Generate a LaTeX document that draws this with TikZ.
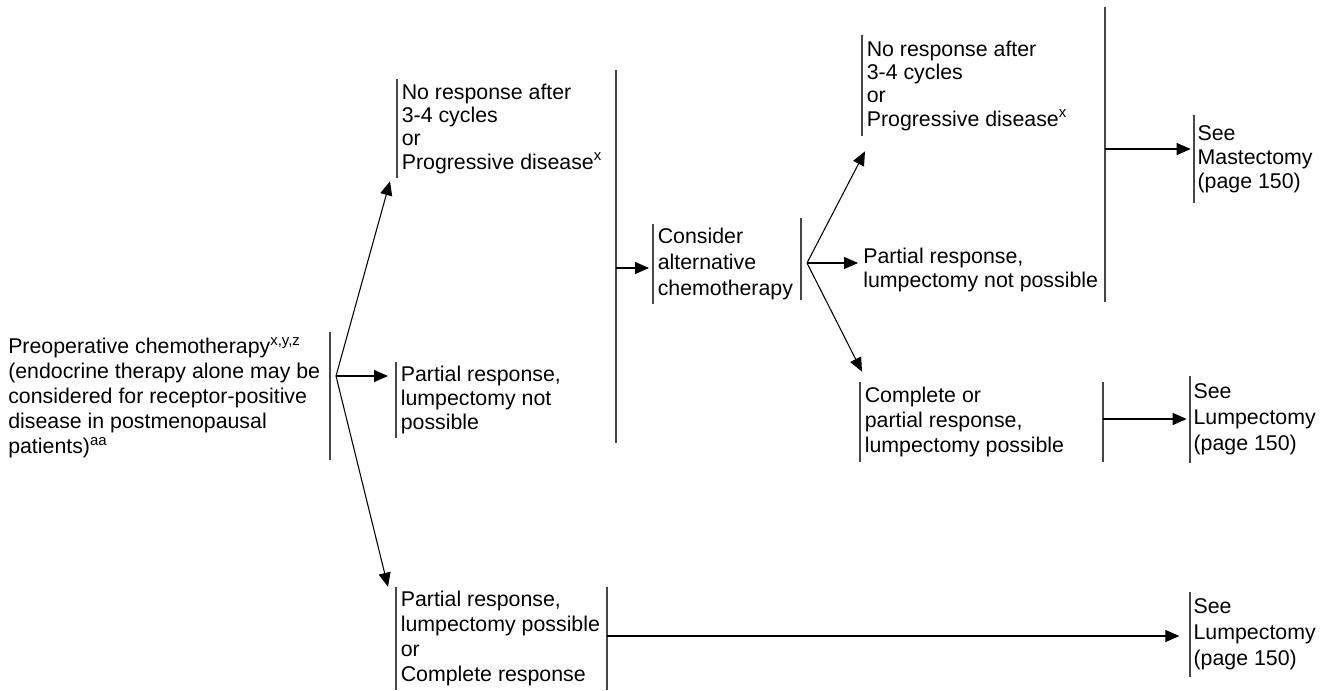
\documentclass[tikz,border=0pt]{standalone}
\usepackage{fontspec}
\setmainfont{Liberation Sans}
\usetikzlibrary{arrows.meta}

\tikzset{
  txt/.style={anchor=west, inner xsep=3.4pt, inner ysep=0pt, align=left,
              font=\fontsize{16}{18.75}\selectfont},
  tight/.style={font=\fontsize{16}{17.5}\selectfont},
  brk/.style={line width=1.1pt, draw=black!72},
  arr/.style={line width=0.8pt, draw=black, -{Triangle[length=10.5pt,width=9pt]}},
}

\begin{document}
\begin{tikzpicture}[x=0.75pt, y=-0.75pt]
\useasboundingbox (0,0) rectangle (1333,690);

% ---- first column ----
\node[txt, inner xsep=3.75pt] (A) at (3,398)
  {Preoperative chemotherapy\textsuperscript{x,y,z}\\(endocrine therapy alone may be\\considered for receptor-positive\\disease in postmenopausal\\patients)\textsuperscript{aa}};
\coordinate (Atop) at (330,332);
\coordinate (Abot) at (330,460);
\draw[brk] (Atop) -- (Abot);
\coordinate (fa) at (336,376);

% ---- first responses ----
\node[txt, tight, minimum height=74.25pt] (B) at (397,128.5)
  {No response after\\3-4 cycles\\or\\Progressive disease\textsuperscript{x}};
\draw[brk] (B.north west) -- (B.south west);

\node[txt, font=\fontsize{16}{18}\selectfont, minimum height=56.25pt] (C) at (396,400)
  {Partial response,\\lumpectomy not\\possible};
\draw[brk] (C.north west) -- (C.south west);

\node[txt, minimum height=77.25pt] (D) at (396,638.5)
  {Partial response,\\lumpectomy possible\\or\\Complete response};
\draw[brk] (D.north west) -- (D.south west);
\coordinate (Dtop) at (607,587);
\coordinate (Dbot) at (607,690);
\draw[brk] (Dtop) -- (Dbot);
\coordinate (Dout) at (607,636);

\draw[arr] (fa) -- ([shift={(-7,3)}]B.south west);
\draw[arr] (fa) -- ([xshift=-6pt]fa -| C.west);
\draw[arr] (fa) -- ([shift={(-8,0)}]D.north west);

% shared bracket of the two non-operable branches
\coordinate (Ltop) at (616,70);
\coordinate (Lbot) at (616,443);
\draw[brk] (Ltop) -- (Lbot);

% ---- alternative chemotherapy ----
\node[txt, font=\fontsize{16}{19.5}\selectfont, minimum height=60pt] (E) at (653,264)
  {Consider\\alternative\\chemotherapy};
\draw[brk] (E.north west) -- (E.south west);
\coordinate (Etop) at (801,218);
\coordinate (Ebot) at (801,300);
\draw[brk] (Etop) -- (Ebot);
\coordinate (Lout) at (616,268);
\draw[arr, shorten >=3pt] (Lout) -- (Lout -| E.west);
\coordinate (fe) at (807,263);

% ---- second responses ----
\node[txt, tight, minimum height=75.75pt] (F) at (862,85.5)
  {No response after\\3-4 cycles\\or\\Progressive disease\textsuperscript{x}};
\draw[brk] (F.north west) -- (F.south west);

\node[txt, tight, inner xsep=3.75pt] (G) at (858,270)
  {Partial response,\\lumpectomy not possible};

\node[txt, minimum height=60pt] (I) at (860,422)
  {Complete or\\partial response,\\lumpectomy possible};
\draw[brk] (I.north west) -- (I.south west);
\coordinate (Itop) at (1103,382);
\coordinate (Ibot) at (1103,462);
\draw[brk] (Itop) -- (Ibot);
\coordinate (Iout) at (1103,419);

\draw[arr] (fe) -- ([shift={(3,15)}]F.south west);
\draw[arr] (fe) -- (fe -| G.west);
\draw[arr] (fe) -- ([shift={(2,-10)}]I.north west);

% shared bracket of the second non-operable branches
\coordinate (Mtop) at (1105,7);
\coordinate (Mbot) at (1105,302);
\draw[brk] (Mtop) -- (Mbot);
\coordinate (Mout) at (1105,149);

% ---- surgical outcomes ----
\node[txt, font=\fontsize{16}{18}\selectfont, inner xsep=2.5pt, minimum height=66pt] (H) at (1194,159)
  {See\\Mastectomy\\(page 150)};
\draw[brk] (H.north west) -- (H.south west);

\node[txt, font=\fontsize{16}{19.5}\selectfont, inner xsep=2.5pt, minimum height=65.25pt] (J) at (1190,419.5)
  {See\\Lumpectomy\\(page 150)};
\draw[brk] (J.north west) -- (J.south west);

\node[txt, font=\fontsize{16}{19.5}\selectfont, inner xsep=2.5pt, minimum height=63.75pt] (K) at (1190,634.5)
  {See\\Lumpectomy\\(page 150)};
\draw[brk] (K.north west) -- (K.south west);

\draw[arr, shorten >=2.5pt] (Mout) -- (Mout -| H.west);
\draw[arr, shorten >=2.5pt] (Iout) -- (Iout -| J.west);
\draw[arr, shorten >=8pt] (Dout) -- (Dout -| K.west);
\end{tikzpicture}
\end{document}
